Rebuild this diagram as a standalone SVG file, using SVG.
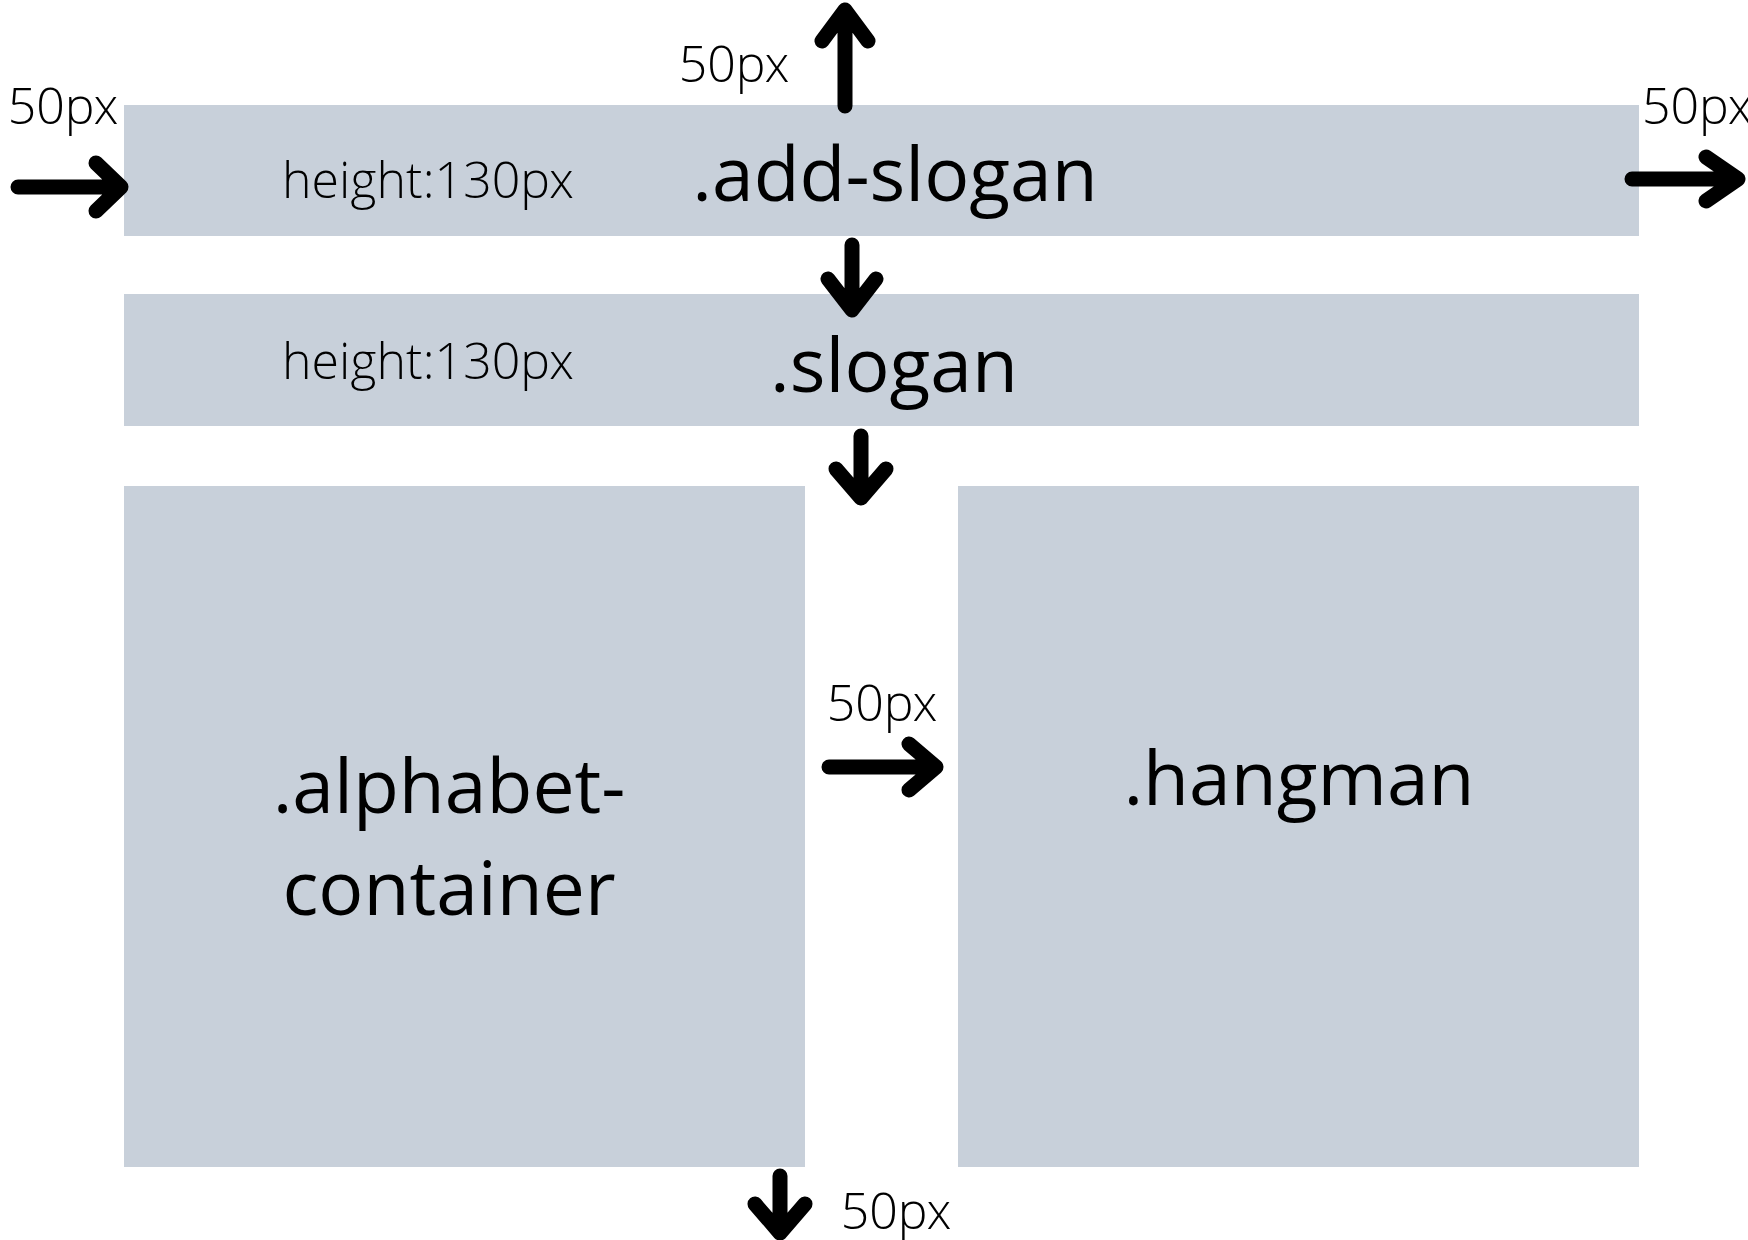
<svg xmlns="http://www.w3.org/2000/svg" width="1748" height="1240" viewBox="0 0 1748 1240">
<style>
.box{fill:#c8d0da}
.title{font-family:"Open Sans","Liberation Sans",sans-serif;font-size:75px;font-weight:400;fill:#000;text-anchor:middle}
.lbl{font-family:"Open Sans Light","Open Sans","Liberation Sans",sans-serif;font-size:50px;font-weight:300;fill:#000;text-anchor:middle}
.arr{fill:none;stroke:#000;stroke-width:15;stroke-linecap:round;stroke-linejoin:round}
</style>
<rect width="1748" height="1240" fill="#fff"/>
<g id="add-slogan">
<rect class="box" x="124" y="105" width="1515" height="131"/>
<text class="lbl" x="428" y="198">height:130px</text>
<text class="title" x="895" y="201">.add-slogan</text>
</g>
<g id="slogan">
<rect class="box" x="124" y="294" width="1515" height="132"/>
<text class="lbl" x="428" y="379">height:130px</text>
<text class="title" x="894" y="392">.slogan</text>
</g>
<g id="alphabet-container">
<rect class="box" x="124" y="486" width="681" height="681"/>
<text class="title" x="449" y="813">.alphabet-</text>
<text class="title" x="449" y="915">container</text>
</g>
<g id="hangman">
<rect class="box" x="958" y="486" width="681" height="681"/>
<text class="title" x="1299" y="805">.hangman</text>
</g>
<g id="connectors">
<path class="arr" d="M18 187 H119 M96 163 L121 187 L96 211"/>
<path class="arr" d="M845 106 V11 M822 41 L845 10 L868 41"/>
<path class="arr" d="M1632 179 H1736 M1706 157 L1738 179 L1706 201"/>
<path class="arr" d="M852 245 V308 M828 279 L852 310 L876 279"/>
<path class="arr" d="M861 436 V496 M836 469 L861 498 L886 469"/>
<path class="arr" d="M829 767 H934 M909 744 L936 767 L909 790"/>
<path class="arr" d="M780 1176 V1231 M755 1204 L780 1233 L805 1204"/>
</g>
<g id="labels">
<text class="lbl" x="63" y="124">50px</text>
<text class="lbl" x="734" y="82">50px</text>
<text class="lbl" x="1642" y="124" style="text-anchor:start">50px</text>
<text class="lbl" x="882" y="721">50px</text>
<text class="lbl" x="896" y="1229">50px</text>
</g>
</svg>
